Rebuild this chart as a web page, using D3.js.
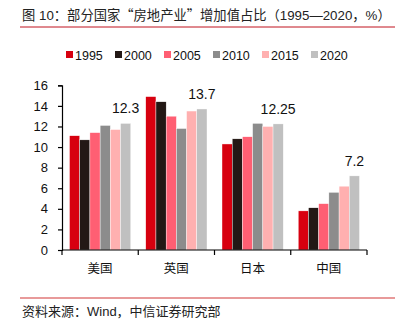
<!DOCTYPE html>
<html><head><meta charset="utf-8">
<script src="https://cdn.jsdelivr.net/npm/d3@7"></script>
<style>
body{margin:0;background:#fff;}
text{font-family:"Liberation Sans","Noto Sans CJK SC",sans-serif;}
</style></head>
<body><svg id="c" width="402" height="321"></svg>
<script>
const categories = ["美国","英国","日本","中国"];
const years = ["1995","2000","2005","2010","2015","2020"];
const colors = ["#d7000f","#231815","#ff5f73","#8c8c8c","#ffb0b0","#c0c0c0"];
const v1995 = [11.1,14.9,10.3,3.8];
const v2000 = [10.7,14.4,10.8,4.1];
const v2005 = [11.4,13.0,11.0,4.5];
const v2010 = [12.1,11.8,12.3,5.6];
const v2015 = [11.7,13.5,12.0,6.2];
const v2020 = [12.3,13.7,12.25,7.2];
const labels2020 = ["12.3","13.7","12.25","7.2"];
const yTicks = [0,2,4,6,8,10,12,14,16];
const titleParts = ["图 10：部分国家","“","房地产业","”","增加值占比（1995—2020，%）"];
const source = "资料来源：Wind，中信证券研究部";

const series = [v1995,v2000,v2005,v2010,v2015,v2020];
const svg = d3.select("#c");

const t = svg.append("text").attr("x",22).attr("y",20).attr("font-size",13.3).attr("fill","#222");
titleParts.forEach(p=>{
  const ts = t.append("tspan").text(p);
  if (p==="“"||p==="”") ts.attr("font-family","Noto Sans CJK SC");
});
svg.append("line").attr("x1",20).attr("x2",395).attr("y1",27).attr("y2",27).attr("stroke","#c0121e").attr("stroke-width",1);

const x0 = d3.scaleBand().domain(categories).range([62,367]).paddingInner(0).paddingOuter(0);
const x1 = d3.scaleBand().domain(years).range([7.5, x0.bandwidth()-7.5]).padding(0);
const y = d3.scaleLinear().domain([0,16]).range([250,85.3]);

// legend
const lg = svg.append("g");
years.forEach((yr,i)=>{
  const gx = 66 + i*49;
  lg.append("rect").attr("x",gx).attr("y",51).attr("width",7).attr("height",7).attr("fill",colors[i]);
  lg.append("text").attr("x",gx+9).attr("y",59.5).attr("font-size",12.5).attr("fill","#111").text(yr);
});

// bars
categories.forEach((c,ci)=>{
  series.forEach((s,si)=>{
    svg.append("rect")
      .attr("x",x0(c)+x1(years[si]))
      .attr("y",y(s[ci]))
      .attr("width",x1.bandwidth())
      .attr("height",y(0)-y(s[ci]))
      .attr("fill",colors[si])
      .attr("stroke","#fff").attr("stroke-width",0.4);
  });
  svg.append("text")
    .attr("x",x0(c)+x1("2020")+x1.bandwidth()/2)
    .attr("y",y(v2020[ci])-10)
    .attr("text-anchor","middle").attr("font-size",14).attr("fill","#111")
    .text(labels2020[ci]);
});

// y axis
const ya = svg.append("g").attr("transform","translate(62,0)")
  .call(d3.axisLeft(y).tickValues(yTicks).tickSize(4).tickPadding(10));
ya.selectAll("text").attr("font-size",13).attr("fill","#111").attr("font-family","Liberation Sans, sans-serif");
ya.selectAll("line,path").attr("stroke","#000").attr("stroke-width",1.2);

// x axis
const xa = svg.append("g").attr("transform","translate(0,250)");
xa.append("line").attr("x1",62).attr("x2",367).attr("y1",0).attr("y2",0).attr("stroke","#000").attr("stroke-width",1.2);
const bounds = categories.map(c=>x0(c)).concat([x0.range()[1]]);
xa.selectAll("line.tk").data(bounds).enter().append("line").attr("class","tk")
  .attr("x1",d=>d).attr("x2",d=>d).attr("y1",0).attr("y2",5).attr("stroke","#000").attr("stroke-width",1.2);
xa.selectAll("text").data(categories).enter().append("text")
  .attr("x",d=>x0(d)+x0.bandwidth()/2).attr("y",23).attr("text-anchor","middle")
  .attr("font-size",12.5).attr("fill","#111").text(d=>d);

svg.append("line").attr("x1",20).attr("x2",395).attr("y1",298).attr("y2",298).attr("stroke","#e89a9a").attr("stroke-width",2);
svg.append("text").attr("x",22).attr("y",316).attr("font-size",13).attr("fill","#222").text(source);
</script></body></html>
